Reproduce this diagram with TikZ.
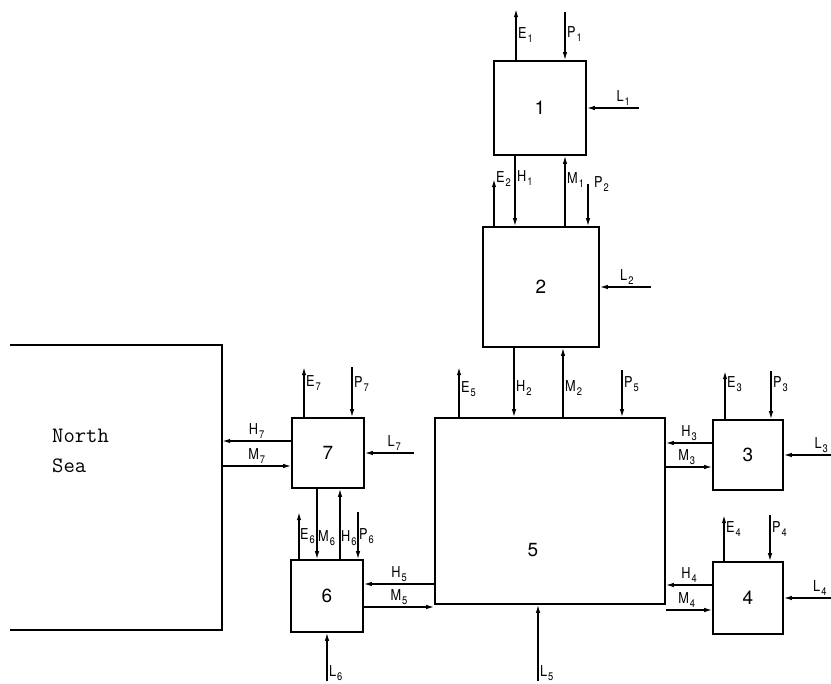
\documentclass[tikz,border=0pt]{standalone}
\usepackage{fontspec}
\setsansfont{TeX Gyre Heros}
\newfontfamily\labfont[FakeStretch=0.85]{TeX Gyre Heros}
\usetikzlibrary{arrows.meta,calc}
\newcommand{\fl}[2]{#1\kern1pt\raisebox{-4pt}{\fontsize{11}{11}\selectfont #2}}

\begin{document}
\begin{tikzpicture}[x=1pt,y=-1pt,
    box/.style={draw,line width=1.6pt,inner sep=0pt},
    num/.style={font=\sffamily\fontsize{19}{19}\selectfont},
    flow/.style={line width=1.3pt,-{Latex[length=8pt,width=4.5pt]}},
    lab/.style={font=\labfont\fontsize{15}{15}\selectfont,inner sep=1.5pt}]
    \useasboundingbox (0,0) rectangle (831,684);
    % compartments
    \node[box,minimum width=92pt,minimum height=94pt] (b1) at (540,108) {};
    \node[box,minimum width=116pt,minimum height=120pt] (b2) at (541,287) {};
    \node[box,minimum width=230pt,minimum height=186pt] (b5) at (550,511) {};
    \node[box,minimum width=70pt,minimum height=70pt] (b3) at (748,455) {};
    \node[box,minimum width=70pt,minimum height=72pt] (b4) at (748,598) {};
    \node[box,minimum width=72pt,minimum height=70pt] (b7) at (328,453) {};
    \node[box,minimum width=72pt,minimum height=72pt] (b6) at (327,596) {};
    \node[minimum width=212pt,minimum height=285pt,inner sep=0pt] (sea) at (116,487.5) {};
    \draw[line width=1.6pt] (sea.north west) -- (sea.north east) -- (sea.south east) -- (sea.south west);
    \node[font=\ttfamily\fontsize{22}{30}\selectfont,align=left,anchor=west,inner sep=0pt] (seatxt) at (52,451) {North\\Sea};
    \node[num] (n1) at (b1) {1};
    \node[num] (n2) at (b2) {2};
    \node[num] (n3) at (b3) {3};
    \node[num] (n4) at (b4) {4};
    \node[num] (n5) at (533,550) {5};
    \node[num] (n6) at (b6) {6};
    \node[num] (n7) at (b7) {7};
    % box 1
    \draw[flow] ([xshift=-24pt]b1.north) -- ++(0,-51) node[lab,pos=.5,right] {\fl{E}{1}};
    \draw[flow] ([xshift=25pt,yshift=48pt]b1.north) -- ([xshift=25pt]b1.north) node[lab,pos=.46,right] {\fl{P}{1}};
    \draw[flow] ([xshift=52pt]b1.east) -- (b1.east) node[lab,pos=.3,above] {\fl{L}{1}};
    \draw[flow] ([xshift=-25pt]b1.south) -- ([xshift=-25pt]b1.south |- b2.north) node[lab,pos=.32,right] {\fl{H}{1}};
    \draw[flow] ([xshift=25pt]b1.south |- b2.north) -- ([xshift=25pt]b1.south) node[lab,pos=.65,right] {\fl{M}{1}};
    % box 2
    \draw[flow] ([xshift=-47pt]b2.north) -- ++(0,-47) node[lab,at end,right] {\fl{E}{2}};
    \draw[flow] ([xshift=47pt,yshift=42pt]b2.north) -- ([xshift=47pt]b2.north) node[lab,at start,right,xshift=4pt] {\fl{P}{2}};
    \draw[flow] ([xshift=51pt]b2.east) -- (b2.east) node[lab,pos=.47,above] {\fl{L}{2}};
    \draw[flow] ([xshift=-27pt]b2.south) -- ([xshift=-27pt]b2.south |- b5.north) node[lab,pos=.58,right] {\fl{H}{2}};
    \draw[flow] ([xshift=22pt]b2.south |- b5.north) -- ([xshift=22pt]b2.south) node[lab,pos=.42,right] {\fl{M}{2}};
    % box 5
    \draw[flow] ([xshift=-91pt]b5.north) -- ++(0,-50) node[lab,pos=.56,right] {\fl{E}{5}};
    \draw[flow] ([xshift=72pt,yshift=47pt]b5.north) -- ([xshift=72pt]b5.north) node[lab,pos=.3,right] {\fl{P}{5}};
    \draw[flow] ([xshift=-12pt,yshift=-76pt]b5.south) -- ([xshift=-12pt]b5.south) node[lab,pos=.1,right] {\fl{L}{5}};
    % box 3
    \draw[flow] ([xshift=-23pt]b3.north) -- ++(0,-48) node[lab,pos=.73,right] {\fl{E}{3}};
    \draw[flow] ([xshift=23pt,yshift=48pt]b3.north) -- ([xshift=23pt]b3.north) node[lab,pos=.27,right] {\fl{P}{3}};
    \draw[flow] ([xshift=48pt]b3.east) -- (b3.east) node[lab,pos=.22,above] {\fl{L}{3}};
    \draw[flow] ([yshift=12pt]b3.west) -- ([yshift=12pt]b3.west -| b5.east) node[lab,pos=.5,above] {\fl{H}{3}};
    \draw[flow] ([yshift=-12pt]b3.west -| b5.east) -- ([yshift=-12pt]b3.west) node[lab,pos=.45,above] {\fl{M}{3}};
    % box 4
    \draw[flow] ([xshift=-24pt]b4.north) -- ++(0,-46) node[lab,pos=.7,right] {\fl{E}{4}};
    \draw[flow] ([xshift=22pt,yshift=46pt]b4.north) -- ([xshift=22pt]b4.north) node[lab,pos=.3,right] {\fl{P}{4}};
    \draw[flow] ([xshift=48pt]b4.east) -- (b4.east) node[lab,pos=.25,above] {\fl{L}{4}};
    \draw[flow] ([yshift=13pt]b4.west) -- ([yshift=13pt]b4.west -| b5.east) node[lab,pos=.5,above] {\fl{H}{4}};
    \draw[flow] ([yshift=-12pt]b4.west -| b5.east) -- ([yshift=-12pt]b4.west) node[lab,pos=.45,above] {\fl{M}{4}};
    % box 7
    \draw[flow] ([xshift=-24pt]b7.north) -- ++(0,-50) node[lab,pos=.68,right] {\fl{E}{7}};
    \draw[flow] ([xshift=24pt,yshift=50pt]b7.north) -- ([xshift=24pt]b7.north) node[lab,pos=.34,right] {\fl{P}{7}};
    \draw[flow] ([xshift=49pt]b7.east) -- (b7.east) node[lab,pos=.4,above] {\fl{L}{7}};
    \draw[flow] ([yshift=12pt]b7.west) -- ([yshift=12pt]b7.west -| sea.east) node[lab,pos=.5,above] {\fl{H}{7}};
    \draw[flow] ([yshift=-13pt]b7.west -| sea.east) -- ([yshift=-13pt]b7.west) node[lab,pos=.5,above] {\fl{M}{7}};
    \draw[flow] ([xshift=-11pt]b7.south) -- ([xshift=-11pt]b7.south |- b6.north) node[lab,pos=.7,right,inner sep=0.5pt] {\fl{M}{6}};
    \draw[flow] ([xshift=12pt]b7.south |- b6.north) -- ([xshift=12pt]b7.south) node[lab,pos=.3,right,inner sep=0.5pt] {\fl{H}{6}};
    % box 6
    \draw[flow] ([xshift=-28pt]b6.north) -- ++(0,-47) node[lab,pos=.5,right,inner sep=0.5pt] {\fl{E}{6}};
    \draw[flow] ([xshift=31pt,yshift=47pt]b6.north) -- ([xshift=31pt]b6.north) node[lab,pos=.5,right,inner sep=0.5pt] {\fl{P}{6}};
    \draw[flow] ([yshift=12pt]b6.east -| b5.west) -- ([yshift=12pt]b6.east) node[lab,pos=.5,above] {\fl{H}{5}};
    \draw[flow] ([yshift=-11pt]b6.east) -- ([yshift=-11pt]b6.east -| b5.west) node[lab,pos=.5,above] {\fl{M}{5}};
    \draw[flow] ([yshift=-48pt]b6.south) -- (b6.south) node[lab,pos=.15,right] {\fl{L}{6}};
\end{tikzpicture}
\end{document}
